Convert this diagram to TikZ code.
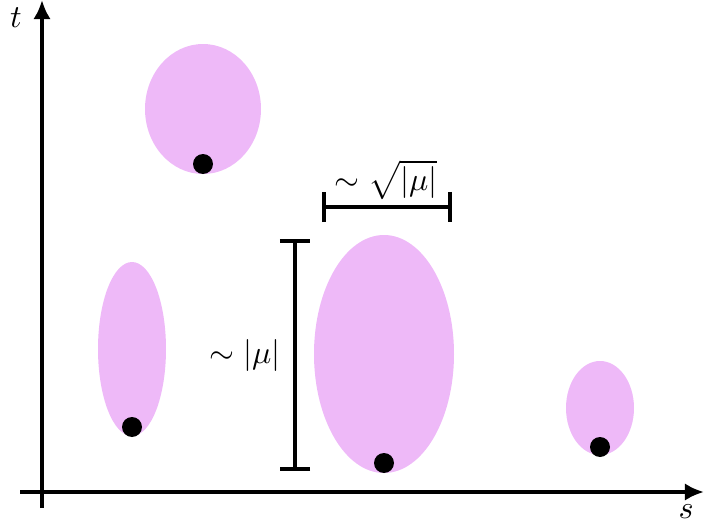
\documentclass[tikz,border=0pt]{standalone}
\usetikzlibrary{arrows.meta}
\definecolor{blob}{RGB}{238,185,248}
\begin{document}
\begin{tikzpicture}[x=0.3125pt,y=-0.3125pt,
  axis/.style={line width=1.25pt,-{Latex[length=6pt,width=5.5pt]}},
  blobfill/.style={fill=blob},
  dotmark/.style={fill=black},
  scalebar/.style={line width=1.1pt,{Bar[width=9.5pt]}-{Bar[width=9.5pt]}},
  lab/.style={inner sep=0pt}]
\useasboundingbox (0,0) rectangle (704,525);
% blobs
\fill[blobfill] (203,109) ellipse [x radius=58, y radius=65];
\fill[blobfill] (132,349) ellipse [x radius=34, y radius=87];
\fill[blobfill] (384,354) ellipse [x radius=70, y radius=119];
\fill[blobfill] (600,408) ellipse [x radius=34, y radius=47];
% dots
\fill[dotmark] (203,164) circle [radius=10];
\fill[dotmark] (132,427) circle [radius=10];
\fill[dotmark] (384,463) circle [radius=10];
\fill[dotmark] (600,447) circle [radius=10];
% axes
\coordinate (xs) at (20,492);
\coordinate (xe) at (704,492);
\coordinate (ys) at (42,508);
\coordinate (ye) at (42,0);
\draw[axis] (xs) -- (xe);
\draw[axis] (ys) -- (ye);
\node[lab] (tl) at (16,18) {$t$};
\node[lab] (sl) at (686,512) {$s$};
% scale bars
\coordinate (vb1) at (295,239);
\coordinate (vb2) at (295,471);
\draw[scalebar] (vb1) -- (vb2);
\node[lab] (vlab) at (245,356) {$\sim|\mu|$};
\coordinate (hb1) at (322,207);
\coordinate (hb2) at (452,207);
\draw[scalebar] (hb1) -- (hb2);
\node[lab] (hlab) at (386,180) {$\sim\sqrt{|\mu|}$};
\end{tikzpicture}
\end{document}
